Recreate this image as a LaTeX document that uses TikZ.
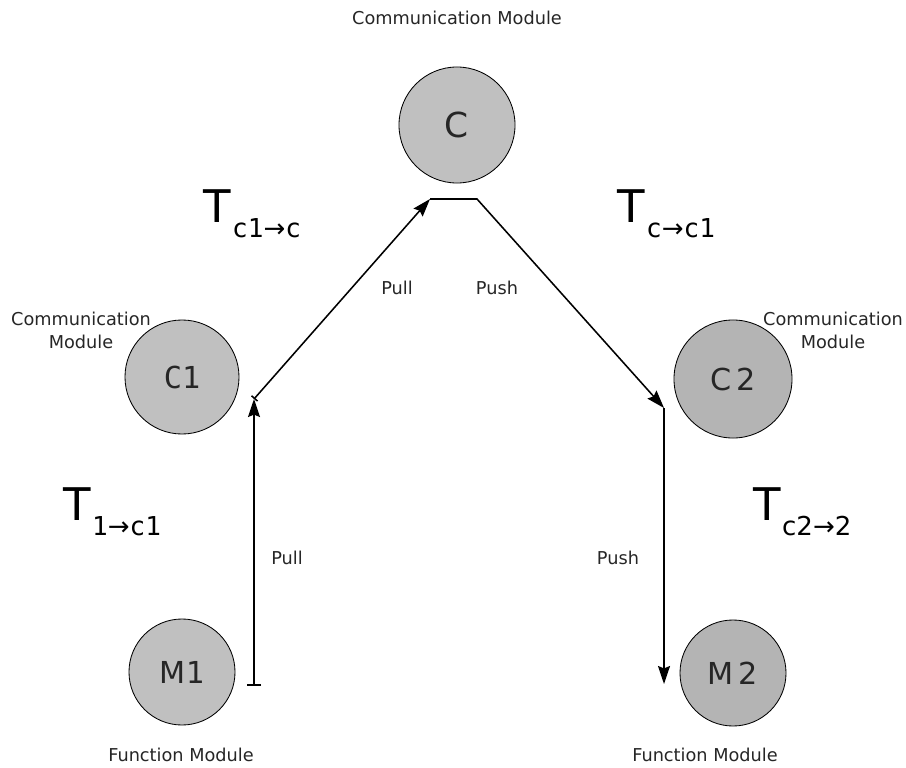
\documentclass[tikz,border=0pt]{standalone}
\usepackage{fontspec}
\setmainfont{DejaVu Sans}
\newfontfamily\monofont{DejaVu Sans Mono}
\usetikzlibrary{arrows.meta, positioning}
\definecolor{modgray}{HTML}{C0C0C0}
\definecolor{moddark}{HTML}{B4B4B4}
\definecolor{inkgray}{HTML}{262626}
% transfer time: big T with a lowered index
\newcommand{\ttime}[3]{T\kern1pt\raisebox{-10.7pt}{\fontsize{18.5}{18.5}\selectfont
  {#1#2}{\normalfont →}{#1#3}}}

\begin{document}
\begin{tikzpicture}[x=0.025cm, y=-0.025cm,
  module/.style={circle, draw, line width=0.6pt, fill=modgray, inner sep=0pt,
    minimum size=2.9cm, text=inkgray, font=\fontsize{21.5}{21.5}\selectfont},
  funcmod/.style={module, minimum size=2.65cm},
  caption/.style={align=center, text=inkgray, inner sep=0pt,
    font=\fontsize{12.6}{16.4}\selectfont},
  tlabel/.style={anchor=base west, inner sep=0pt, text=black,
    font=\fontsize{32}{32}\selectfont},
  arr/.style={-{Stealth[length=0.45cm, width=0.3cm, inset=0.06cm]}, line width=1.1pt},
  barr/.style={{Bar[width=#1]}-{Stealth[length=0.45cm, width=0.3cm, inset=0.06cm]},
    line width=1.1pt},
]
  \useasboundingbox (0,0) rectangle (906,768);

  % modules
  \node[module, font=\fontsize{24.5}{24.5}\selectfont] (c) at (457,125) {C};
  \node[module, minimum size=2.85cm] (c1) at (182,377) {\monofont C1};
  \node[module, fill=moddark, minimum size=2.95cm] (c2) at (733,379) {C\,2};
  \node[funcmod] (m1) at (182,672) {M\monofont 1};
  \node[funcmod, fill=moddark] (m2) at (733,673) {M\,2};

  % captions
  \node[caption] (ccap) at (457,18) {Communication Module};
  \node[caption] (c1cap) at (81,330) {Communication\\Module};
  \node[caption] (c2cap) at (833,330) {Communication\\Module};
  \node[caption] (m1cap) at (181,755) {Function Module};
  \node[caption] (m2cap) at (705,755) {Function Module};

  % transfer times
  \node[tlabel] (tc1c) at (203,222) {\ttime{\monofont}{c1}{c}};
  \node[tlabel] (tcc1) at (617,222) {\ttime{\monofont}{c}{c1}};
  \node[tlabel] (t1c1) at (63,520) {\ttime{\monofont}{1}{c1}};
  \node[tlabel] (tc22) at (753,520) {\ttime{}{c2}{2}};

  % message path
  \coordinate (m1out) at (254,686);
  \coordinate (c1in) at (254,399);
  \coordinate (cin) at (430,199);
  \coordinate (cout) at (477,199);
  \coordinate (c2in) at (664,408);
  \coordinate (m2in) at (664,684);

  \draw[barr=0.36cm] (m1out) -- (c1in);
  \draw[barr=0.2cm] (c1in) -- (cin);
  \draw[arr] (cin) -- (cout) -- (c2in);
  \draw[arr] (c2in) -- (m2in);

  \node[caption] (pull1) at (287,558) {Pull};
  \node[caption] (pull2) at (397,288) {Pull};
  \node[caption] (push1) at (497,288) {Push};
  \node[caption] (push2) at (618,558) {Push};
\end{tikzpicture}
\end{document}
